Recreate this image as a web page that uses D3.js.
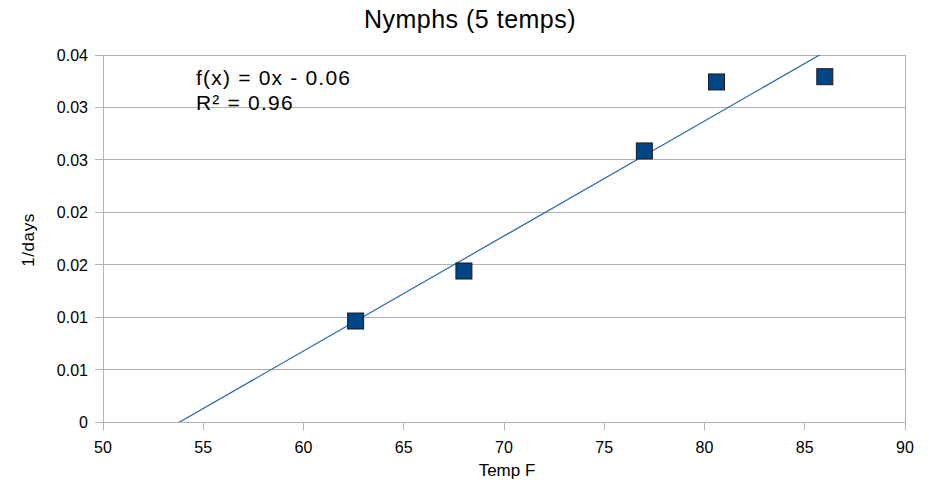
<!DOCTYPE html>
<html>
<head>
<meta charset="utf-8">
<script src="https://cdn.jsdelivr.net/npm/d3@7"></script>
<style>
html,body{margin:0;padding:0;background:#fff;}
svg{display:block;font-family:"Liberation Sans",Arial,sans-serif;}
</style>
</head>
<body>
<svg id="chart" width="934" height="490"></svg>
<script>
const tempF = [62.6, 68, 77, 80.6, 86];
const rate = [0.00963, 0.0144, 0.02585, 0.03243, 0.03293];
const xTicks = [50, 55, 60, 65, 70, 75, 80, 85, 90];
const yTicks = [0, 0.005, 0.01, 0.015, 0.02, 0.025, 0.03, 0.035];
const yTickLabels = ["0", "0.01", "0.01", "0.02", "0.02", "0.03", "0.03", "0.04"];
const title = "Nymphs (5 temps)";
const xTitle = "Temp F";
const yTitle = "1/days";

const svg = d3.select("#chart");
const m = {left: 103, right: 905, top: 55, bottom: 422};
const x = d3.scaleLinear().domain([50, 90]).range([m.left, m.right]);
const y = d3.scaleLinear().domain([0, 0.035]).range([m.bottom, m.top]);

// linear regression
const n = tempF.length;
const mx = d3.mean(tempF), my = d3.mean(rate);
let sxy = 0, sxx = 0, syy = 0;
for (let i = 0; i < n; i++) {
  sxy += (tempF[i]-mx)*(rate[i]-my);
  sxx += (tempF[i]-mx)**2;
  syy += (rate[i]-my)**2;
}
const slope = sxy/sxx, intercept = my - slope*mx;
const r2 = sxy*sxy/(sxx*syy);

// gridlines
svg.append("g").selectAll("line").data(yTicks).join("line")
  .attr("x1", m.left - 8).attr("x2", m.right)
  .attr("y1", d => y(d)).attr("y2", d => y(d))
  .attr("stroke", "#b3b3b3").attr("stroke-width", 1).attr("shape-rendering","crispEdges");

// frame
svg.append("rect").attr("x", m.left).attr("y", m.top)
  .attr("width", m.right - m.left).attr("height", m.bottom - m.top)
  .attr("fill", "none").attr("stroke", "#b3b3b3").attr("shape-rendering","crispEdges");

// x ticks
svg.append("g").selectAll("line").data(xTicks).join("line")
  .attr("x1", d => x(d)).attr("x2", d => x(d))
  .attr("y1", m.bottom).attr("y2", m.bottom + 8)
  .attr("stroke", "#b3b3b3").attr("shape-rendering","crispEdges");

svg.append("g").selectAll("text").data(xTicks).join("text")
  .attr("x", d => x(d)).attr("y", m.bottom + 31)
  .attr("text-anchor", "middle").attr("font-size", 16).attr("fill", "#000")
  .text(d => d);

svg.append("g").selectAll("text").data(yTicks).join("text")
  .attr("x", m.left - 15).attr("y", d => y(d) + 6)
  .attr("text-anchor", "end").attr("font-size", 16).attr("fill", "#000")
  .text((d, i) => yTickLabels[i]);

// clip
svg.append("clipPath").attr("id", "clip").append("rect")
  .attr("x", m.left).attr("y", m.top).attr("width", m.right - m.left).attr("height", m.bottom - m.top);

// trend line
const x0 = x.domain()[0], x1 = x.domain()[1];
svg.append("line").attr("clip-path", "url(#clip)")
  .attr("x1", x(x0)).attr("y1", y(slope*x0 + intercept))
  .attr("x2", x(x1)).attr("y2", y(slope*x1 + intercept))
  .attr("stroke", "#2767b0").attr("stroke-width", 1.2);

// points
const s = 16;
svg.append("g").selectAll("rect").data(tempF).join("rect")
  .attr("x", d => x(d) - s/2).attr("y", (d, i) => y(rate[i]) - s/2)
  .attr("width", s).attr("height", s)
  .attr("fill", "#004586").attr("stroke", "#1a1a1a").attr("stroke-width", 1);

// equation
const fmt = d3.format(".2~f");
svg.append("text").attr("x", 196).attr("y", 85).attr("font-size", 21).attr("letter-spacing", 1.2)
  .text(`f(x) = ${fmt(slope)}x - ${fmt(-intercept)}`);
svg.append("text").attr("x", 196).attr("y", 110).attr("font-size", 21).attr("letter-spacing", 1.2)
  .text(`R² = ${fmt(r2)}`);

// titles
svg.append("text").attr("x", 470).attr("y", 28).attr("text-anchor", "middle")
  .attr("font-size", 25).attr("letter-spacing", 0.5).text(title);
svg.append("text").attr("x", 507).attr("y", 476).attr("text-anchor", "middle")
  .attr("font-size", 17).text(xTitle);
svg.append("text").attr("transform", "translate(34,240) rotate(-90)")
  .attr("text-anchor", "middle").attr("font-size", 17).attr("letter-spacing", 0.6).text(yTitle);
</script>
</body>
</html>
